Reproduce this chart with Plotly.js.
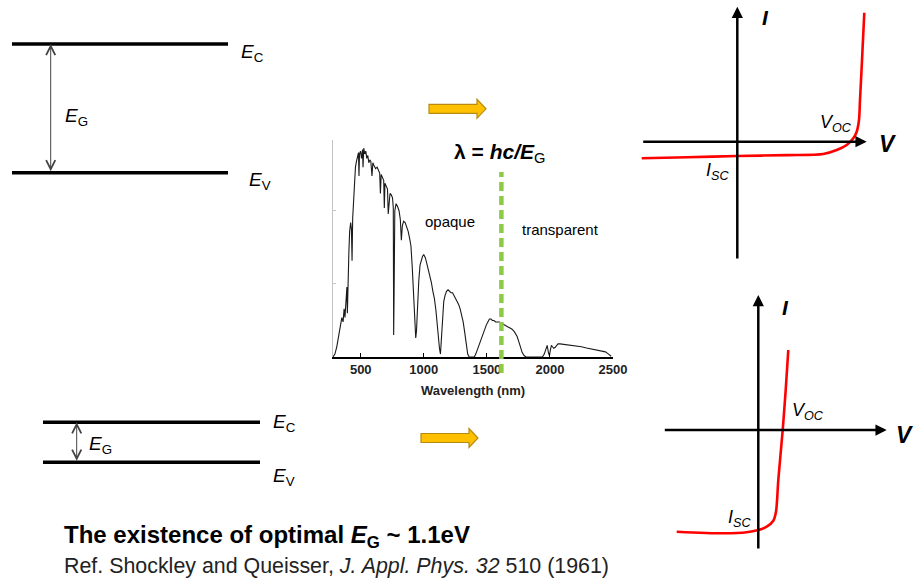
<!DOCTYPE html>
<html>
<head>
<meta charset="utf-8">
<script src="https://cdn.plot.ly/plotly-3.0.1.min.js"></script>
<style>
  html, body { margin: 0; padding: 0; background: #ffffff; }
  #chart { width: 914px; height: 581px; }
</style>
</head>
<body>
<div id="chart"></div>
<script>
// Page geometry (pixels) -> paper fractions
const W = 914, H = 581;
const px = x => x / W;
const py = y => 1 - y / H;
const FONT = 'Liberation Sans, Arial, Helvetica, sans-serif';

// Solar spectrum: wavelength (nm) and spectral irradiance
const wavelength = [
  280, 295, 310, 325, 340, 350, 360, 368, 375, 382,
  390, 394, 400, 406, 412, 420, 426, 431, 436, 442,
  450, 458, 466, 474, 482, 486, 490, 498, 506, 514,
  518, 524, 532, 540, 548, 556, 564, 572, 580, 589,
  596, 606, 618, 630, 642, 650, 656, 662, 672, 682,
  687, 692, 702, 712, 718, 724, 732, 742, 752, 758,
  761, 764, 770, 780, 792, 804, 814, 822, 830, 840,
  852, 864, 876, 888, 898, 908, 918, 928, 936, 942,
  950, 960, 970, 980, 990, 1000, 1012, 1024, 1036, 1048,
  1060, 1072, 1084, 1096, 1106, 1116, 1124, 1132, 1140, 1148,
  1158, 1168, 1180, 1192, 1204, 1216, 1228, 1240, 1252, 1264,
  1276, 1288, 1300, 1312, 1324, 1336, 1348, 1360, 1380, 1400,
  1412, 1424, 1436, 1448, 1460, 1472, 1484, 1496, 1508, 1520,
  1532, 1544, 1556, 1570, 1585, 1600, 1620, 1640, 1660, 1680,
  1700, 1720, 1740, 1755, 1768, 1780, 1795, 1810, 1850, 1900,
  1940, 1955, 1968, 1978, 1988, 1996, 2004, 2012, 2020, 2030,
  2040, 2052, 2064, 2080, 2100, 2130, 2170, 2210, 2250, 2290,
  2330, 2370, 2410, 2440, 2465, 2485
];
const irradiance = [
  0.00, 0.02, 0.07, 0.15, 0.22, 0.27, 0.24, 0.33, 0.27, 0.38,
  0.48, 0.30, 0.60, 0.72, 0.86, 0.92, 0.88, 0.66, 0.95, 1.05,
  1.22, 1.30, 1.34, 1.37, 1.40, 1.24, 1.39, 1.41, 1.36, 1.42,
  1.30, 1.43, 1.39, 1.41, 1.36, 1.38, 1.33, 1.35, 1.34, 1.24,
  1.33, 1.31, 1.29, 1.30, 1.27, 1.26, 1.12, 1.25, 1.23, 1.21,
  1.02, 1.19, 1.17, 1.15, 0.98, 1.06, 1.12, 1.11, 1.09, 1.02,
  0.15, 0.40, 1.00, 1.05, 1.03, 1.00, 0.94, 0.80, 0.90, 0.93,
  0.92, 0.89, 0.86, 0.81, 0.76, 0.62, 0.45, 0.22, 0.13, 0.18,
  0.35, 0.52, 0.63, 0.67, 0.69, 0.70, 0.68, 0.64, 0.60, 0.56,
  0.51, 0.45, 0.40, 0.32, 0.22, 0.12, 0.06, 0.02, 0.14, 0.28,
  0.38, 0.42, 0.45, 0.46, 0.45, 0.44, 0.44, 0.42, 0.41, 0.38,
  0.36, 0.33, 0.29, 0.24, 0.17, 0.08, 0.02, 0.00, 0.00, 0.00,
  0.02, 0.05, 0.08, 0.11, 0.14, 0.17, 0.19, 0.22, 0.24, 0.26,
  0.26, 0.25, 0.25, 0.24, 0.24, 0.24, 0.23, 0.22, 0.21, 0.20,
  0.19, 0.17, 0.14, 0.10, 0.06, 0.03, 0.01, 0.00, 0.00, 0.00,
  0.00, 0.02, 0.06, 0.08, 0.03, 0.01, 0.05, 0.08, 0.07, 0.06,
  0.065, 0.08, 0.09, 0.09, 0.088, 0.085, 0.08, 0.075, 0.07, 0.062,
  0.056, 0.05, 0.042, 0.035, 0.02, 0.005
];
const wavelengthTicks = [500, 1000, 1500, 2000, 2500];
const irradianceTicks = [0.5, 1.0];
const cutoffWavelength = 1615;   // lambda = hc / E_G

// I-V curve for the wide band gap cell (voltage, current; arbitrary units)
const ivWideV = [-0.956, -0.5, 0, 0.5, 0.86, 0.994, 1.094, 1.16, 1.194, 1.217, 1.227, 1.244, 1.26, 1.27];
const ivWideI = [-0.166, -0.155, -0.143, -0.134, -0.123, -0.083, -0.033, 0.034, 0.10, 0.217, 0.417, 0.75, 1.084, 1.29];

// I-V curve for the narrow band gap cell
const ivNarrowV = [-0.816, -0.35, -0.116, 0, 0.084, 0.15, 0.177, 0.2, 0.244, 0.274, 0.3];
const ivNarrowI = [-1.017, -1.033, -1.023, -1.0, -0.967, -0.907, -0.817, -0.5, 0, 0.4, 0.8];

const traces = [
  {
    x: wavelength, y: irradiance, xaxis: 'x', yaxis: 'y',
    type: 'scatter', mode: 'lines',
    line: { color: '#1a1a1a', width: 1.1 },
    hoverinfo: 'skip', showlegend: false
  },
  {
    x: ivWideV, y: ivWideI, xaxis: 'x2', yaxis: 'y2',
    type: 'scatter', mode: 'lines',
    line: { color: '#ff0000', width: 2.6, shape: 'spline', smoothing: 0.8 },
    hoverinfo: 'skip', showlegend: false
  },
  {
    x: ivNarrowV, y: ivNarrowI, xaxis: 'x3', yaxis: 'y3',
    type: 'scatter', mode: 'lines',
    line: { color: '#ff0000', width: 2.6, shape: 'spline', smoothing: 0.8 },
    hoverinfo: 'skip', showlegend: false
  }
];

// Block arrow outline in page pixels, returned as a paper-referenced SVG path
function blockArrow(x0, x1, yc, shaft, head, headLen) {
  const pts = [
    [x0, yc - shaft / 2], [x1 - headLen, yc - shaft / 2], [x1 - headLen, yc - head / 2],
    [x1, yc], [x1 - headLen, yc + head / 2], [x1 - headLen, yc + shaft / 2], [x0, yc + shaft / 2]
  ];
  return 'M' + pts.map(p => px(p[0]).toFixed(5) + ',' + py(p[1]).toFixed(5)).join('L') + 'Z';
}

function bandLine(x0, x1, y) {
  return { type: 'line', xref: 'paper', yref: 'paper', x0: px(x0), x1: px(x1), y0: py(y), y1: py(y),
           line: { color: '#000', width: 3.5 } };
}

const shapes = [
  bandLine(12, 228, 44), bandLine(12, 228, 172.7),
  bandLine(43, 260, 422.3), bandLine(43, 260, 462.3),
  { type: 'path', xref: 'paper', yref: 'paper', path: blockArrow(429, 486, 108.8, 9, 19, 9),
    fillcolor: '#FFC000', line: { color: '#B88A12', width: 1.2 } },
  { type: 'path', xref: 'paper', yref: 'paper', path: blockArrow(421, 478, 438, 9, 19, 9),
    fillcolor: '#FFC000', line: { color: '#B88A12', width: 1.2 } },
  { type: 'line', xref: 'x', yref: 'paper', x0: cutoffWavelength, x1: cutoffWavelength,
    y0: py(373), y1: py(172), layer: 'above',
    line: { color: '#8DCB45', width: 4.5, dash: '9px,5px' } }
];

function label(text, x, y, size, opts) {
  return Object.assign({
    xref: 'paper', yref: 'paper', x: px(x), y: py(y), text: text, showarrow: false,
    xanchor: 'center', yanchor: 'middle',
    font: { family: FONT, size: size, color: '#000' }
  }, opts || {});
}

function gapArrow(x, yTop, yBot) {
  return {
    xref: 'paper', yref: 'paper', x: px(x), y: py(yTop), ax: 0, ay: yBot - yTop,
    text: '', showarrow: true, arrowside: 'end+start',
    arrowhead: 5, startarrowhead: 5, arrowsize: 1.8, startarrowsize: 1.8,
    arrowwidth: 1, arrowcolor: '#444', standoff: 0, startstandoff: 0
  };
}

function axisArrow(ref, x, y, ax, ay) {
  return {
    xref: 'x' + ref, yref: 'y' + ref, axref: 'x' + ref, ayref: 'y' + ref,
    x: x, y: y, ax: ax, ay: ay, text: '', showarrow: true,
    arrowhead: 2, arrowsize: 0.9, arrowwidth: 2.5, arrowcolor: '#000', standoff: 0
  };
}

const annotations = [
  // wide gap band diagram
  label('<i>E</i><sub>C</sub>', 253, 53, 19),
  label('<i>E</i><sub>V</sub>', 260, 181, 19),
  label('<i>E</i><sub>G</sub>', 76, 117, 19),
  gapArrow(50.7, 44, 172.7),
  // narrow gap band diagram
  label('<i>E</i><sub>C</sub>', 284, 423, 19),
  label('<i>E</i><sub>V</sub>', 284, 477, 19),
  label('<i>E</i><sub>G</sub>', 100, 445, 19),
  gapArrow(76.7, 422.3, 462.3),
  // spectrum labels
  label('<b>λ = <i>hc/E</i></b><sub>G</sub>', 499, 153, 21),
  label('opaque', 450, 221, 15),
  label('transparent', 560, 229, 15),
  // I-V, wide gap
  axisArrow('2', 1.294, 0, -0.956, 0),
  axisArrow('2', 0, 1.35, 0, -1.183),
  label('<b><i>I</i></b>', 765, 18, 21),
  label('<b><i>V</i></b>', 887, 144, 23),
  label('<i>V</i><sub><i>OC</i></sub>', 836, 123, 18),
  label('<i>I</i><sub><i>SC</i></sub>', 717, 171, 18),
  // I-V, narrow gap
  axisArrow('3', 1.284, 0, -0.95, 0),
  axisArrow('3', 0, 1.35, 0, -1.2),
  label('<b><i>I</i></b>', 785, 307, 21),
  label('<b><i>V</i></b>', 904, 435, 23),
  label('<i>V</i><sub><i>OC</i></sub>', 808, 411, 18),
  label('<i>I</i><sub><i>SC</i></sub>', 739, 518, 18),
  // conclusion and reference
  label('<b>The existence of optimal <i>E</i><sub>G</sub> ~ 1.1eV</b>', 62, 536, 24, { xanchor: 'left' }),
  label('Ref. Shockley and Queisser, <i>J. Appl. Phys. 32</i> 510 (1961)', 62, 566, 21.4,
        { xanchor: 'left', font: { family: FONT, size: 21.4, color: '#222' } })
];

const hiddenAxis = (domain, range, anchor) => ({
  domain: domain, range: range, anchor: anchor, visible: false, fixedrange: true
});

const layout = {
  width: W, height: H,
  margin: { l: 0, r: 0, t: 0, b: 0 },
  paper_bgcolor: '#ffffff', plot_bgcolor: 'rgba(0,0,0,0)',
  showlegend: false,
  font: { family: FONT, color: '#000' },
  xaxis: {
    domain: [px(333), px(613)], range: [280, 2500], anchor: 'y',
    showline: true, linecolor: '#000', linewidth: 1.5,
    ticks: 'inside', ticklen: 4, tickwidth: 1, tickcolor: '#000',
    tickvals: wavelengthTicks, ticktext: wavelengthTicks.map(String),
    tickfont: { family: FONT, size: 13, color: '#222', weight: 'bold' },
    showgrid: false, zeroline: false, fixedrange: true,
    title: { text: '<b>Wavelength (nm)</b>', standoff: 10,
             font: { family: FONT, size: 13, color: '#222' } }
  },
  yaxis: {
    domain: [py(357), py(140)], range: [0, 1.486], anchor: 'x',
    showline: true, linecolor: '#c4c4c4', linewidth: 1,
    ticks: 'inside', ticklen: 3, tickwidth: 1, tickcolor: '#c4c4c4',
    tickvals: irradianceTicks, showticklabels: false,
    showgrid: false, zeroline: false, fixedrange: true
  },
  xaxis2: hiddenAxis([px(635), px(875)], [-1.023, 1.377], 'y2'),
  yaxis2: hiddenAxis([py(270), py(0)], [-1.283, 1.417], 'x2'),
  xaxis3: hiddenAxis([px(655), px(895)], [-1.033, 1.367], 'y3'),
  yaxis3: hiddenAxis([py(560), py(285)], [-1.3, 1.45], 'x3'),
  shapes: shapes,
  annotations: annotations
};

Plotly.newPlot('chart', traces, layout, { staticPlot: true, displayModeBar: false });
</script>
</body>
</html>
